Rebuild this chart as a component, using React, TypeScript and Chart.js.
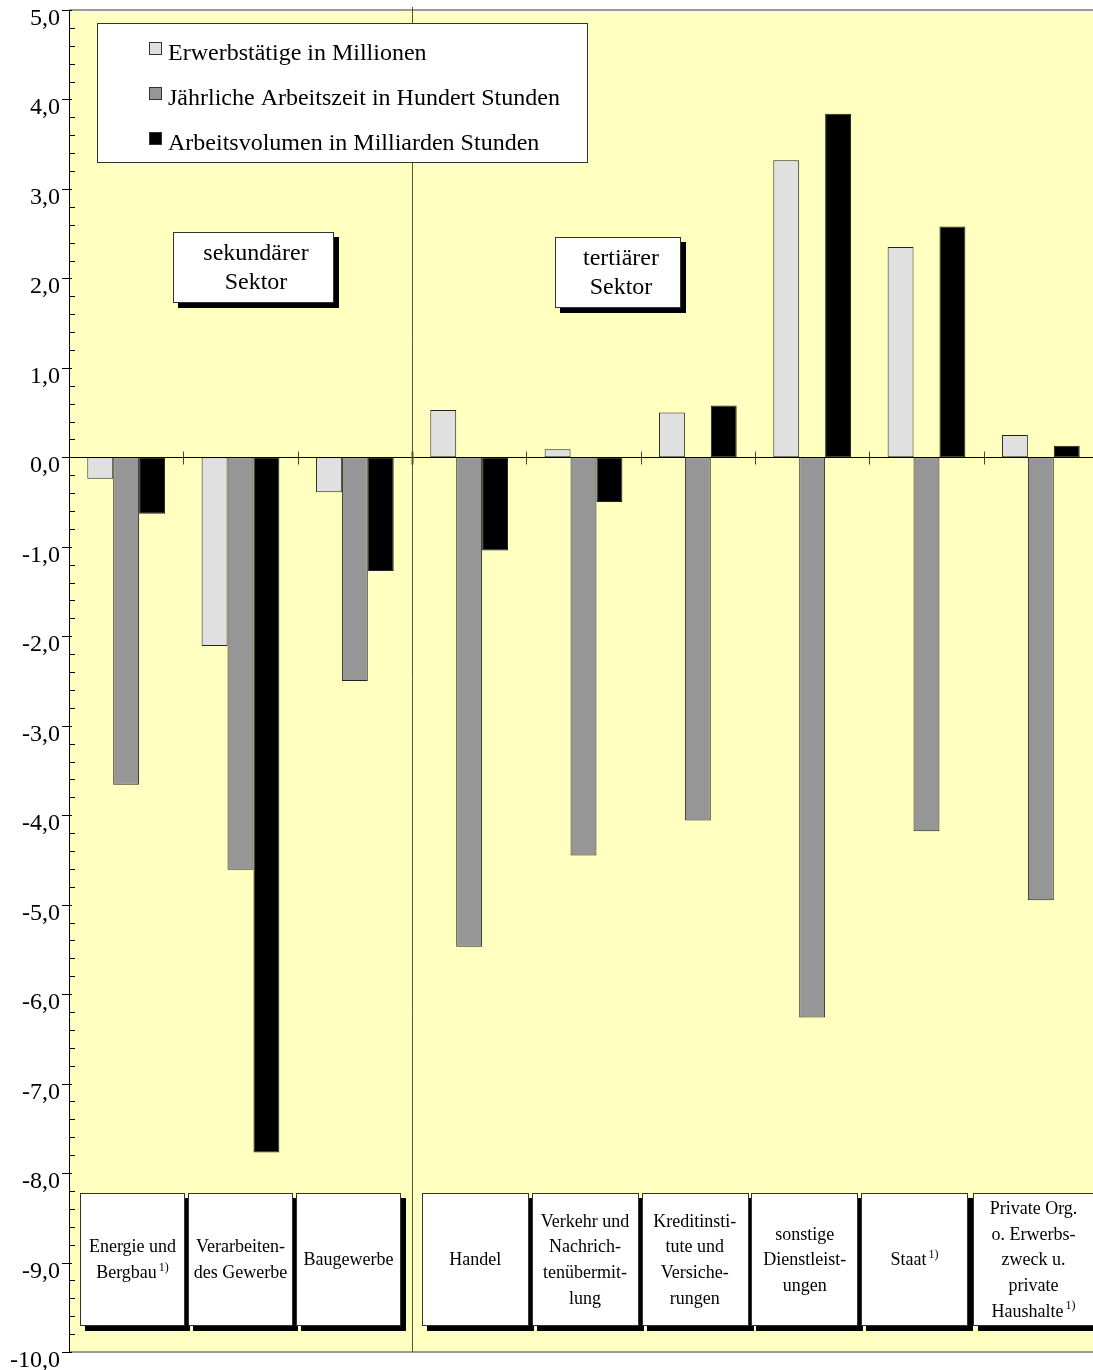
import { useEffect, useRef } from 'react';
import { Chart, registerables } from 'chart.js';

Chart.register(...registerables);

// Wirtschaftsbereiche (Zeilen der Beschriftungskästen)
const categoryLines: string[][] = [
  ['Energie und', 'Bergbau'],
  ['Verarbeiten-', 'des Gewerbe'],
  ['Baugewerbe'],
  ['Handel'],
  ['Verkehr und', 'Nachrich-', 'tenübermit-', 'lung'],
  ['Kreditinsti-', 'tute und', 'Versiche-', 'rungen'],
  ['sonstige', 'Dienstleist-', 'ungen'],
  ['Staat'],
  ['Private Org.', 'o. Erwerbs-', 'zweck u.', 'private', 'Haushalte'],
];
const footnoteMarks = ['1)', '', '', '', '', '', '', '1)', '1)'];

const seriesNames = [
  'Erwerbstätige in Millionen',
  'Jährliche Arbeitszeit in Hundert Stunden',
  'Arbeitsvolumen in Milliarden Stunden',
];
const erwerbstaetige = [-0.24, -2.11, -0.39, 0.53, 0.09, 0.5, 3.32, 2.35, 0.25];
const arbeitszeit = [-3.66, -4.61, -2.5, -5.47, -4.45, -4.06, -6.26, -4.18, -4.95];
const arbeitsvolumen = [-0.63, -7.77, -1.27, -1.04, -0.5, 0.58, 3.84, 2.58, 0.13];
const seriesColors = ['#e0e0e0', '#969696', '#000000'];

const sectorLabels: string[][] = [
  ['sekundärer', 'Sektor'],
  ['tertiärer', 'Sektor'],
];

const yMin = -10;
const yMax = 5;

const SERIF = '"Liberation Serif", "Times New Roman", serif';

function fmt(v: number) {
  return v.toFixed(1).replace('.', ',');
}

function shadowBox(ctx: CanvasRenderingContext2D, x: number, y: number, w: number, h: number, off: number) {
  ctx.fillStyle = '#000';
  ctx.fillRect(x + off, y + off, w, h);
  ctx.fillStyle = '#fff';
  ctx.fillRect(x, y, w, h);
  ctx.strokeStyle = '#333';
  ctx.lineWidth = 1;
  ctx.strokeRect(x + 0.5, y + 0.5, w - 1, h - 1);
}

function centeredLines(
  ctx: CanvasRenderingContext2D,
  lines: string[],
  cx: number,
  cy: number,
  lineH: number,
  size: number,
  mark = ''
) {
  ctx.fillStyle = '#000';
  ctx.textBaseline = 'middle';
  ctx.textAlign = 'left';
  const n = lines.length;
  const markSize = Math.round(size * 0.66);
  lines.forEach((line, i) => {
    const y = cy + (i - (n - 1) / 2) * lineH;
    ctx.font = `${size}px ${SERIF}`;
    const w = ctx.measureText(line).width;
    let markW = 0;
    const last = i === n - 1 && mark;
    if (last) {
      ctx.font = `${markSize}px ${SERIF}`;
      markW = ctx.measureText(mark).width + 2;
    }
    const x0 = cx - (w + markW) / 2;
    ctx.font = `${size}px ${SERIF}`;
    ctx.fillText(line, x0, y);
    if (last) {
      ctx.font = `${markSize}px ${SERIF}`;
      ctx.fillText(mark, x0 + w + 2, y - size * 0.33);
    }
  });
}

const decor = {
  id: 'decor',
  beforeDraw(chart: any) {
    const { ctx, chartArea: a } = chart;
    const x = chart.scales.x;
    const n = categoryLines.length;
    const cw = (x.right - x.left) / n;
    ctx.save();
    ctx.fillStyle = '#fff';
    ctx.fillRect(0, 0, chart.width, chart.height);
    ctx.fillStyle = '#ffffc0';
    ctx.fillRect(a.left, a.top, a.right - a.left, a.bottom - a.top);
    // obere und untere Rahmenlinie
    ctx.fillStyle = '#9a9a9a';
    ctx.fillRect(a.left, a.top - 1, a.right - a.left, 2);
    ctx.fillRect(a.left, a.bottom - 1, a.right - a.left, 2);
    // Trennlinie sekundärer / tertiärer Sektor
    const dx = Math.round(x.left + 3 * cw) + 0.5;
    ctx.strokeStyle = '#55553a';
    ctx.lineWidth = 1;
    ctx.beginPath();
    ctx.moveTo(dx, a.top - 3);
    ctx.lineTo(dx, a.bottom);
    ctx.stroke();
    ctx.restore();
  },
  afterDatasetsDraw(chart: any) {
    const { ctx, chartArea: a } = chart;
    const x = chart.scales.x;
    const y = chart.scales.y;
    const n = categoryLines.length;
    const cw = (x.right - x.left) / n;
    ctx.save();

    // Nulllinie mit Kategorie-Teilstrichen
    const y0 = Math.round(y.getPixelForValue(0)) + 0.5;
    ctx.strokeStyle = '#000';
    ctx.lineWidth = 1;
    ctx.beginPath();
    ctx.moveTo(a.left - 7, y0);
    ctx.lineTo(a.right, y0);
    ctx.stroke();
    for (let i = 1; i < n; i++) {
      const tx = Math.round(x.left + i * cw) + 0.5;
      ctx.strokeStyle = i === 3 ? '#55553a' : '#444';
      ctx.lineWidth = i === 3 ? 2 : 1;
      ctx.beginPath();
      ctx.moveTo(tx, y0 - 6);
      ctx.lineTo(tx, y0 + 7);
      ctx.stroke();
    }
    ctx.lineWidth = 1;

    // y-Achse
    ctx.strokeStyle = '#000';
    const ax = a.left + 0.5;
    ctx.beginPath();
    ctx.moveTo(ax, a.top);
    ctx.lineTo(ax, a.bottom);
    ctx.stroke();
    for (let k = 0; k <= (yMax - yMin) * 5; k++) {
      const v = yMax - k * 0.2;
      const ty = Math.round(y.getPixelForValue(v)) + 0.5;
      ctx.beginPath();
      if (k % 5 === 0) {
        ctx.moveTo(a.left - 7, ty);
        ctx.lineTo(a.left + 3, ty);
      } else {
        ctx.moveTo(a.left, ty);
        ctx.lineTo(a.left + 6, ty);
      }
      ctx.stroke();
    }
    ctx.fillStyle = '#000';
    ctx.font = `24px ${SERIF}`;
    ctx.textAlign = 'right';
    ctx.textBaseline = 'alphabetic';
    for (let v = yMax; v >= yMin; v--) {
      const ty = y.getPixelForValue(v);
      ctx.fillText(fmt(v), a.left - 9, ty + 15);
    }

    // Legende
    const lx = a.left + 28;
    const ly = a.top + 13;
    ctx.fillStyle = '#fff';
    ctx.fillRect(lx, ly, 491, 140);
    ctx.strokeStyle = '#333';
    ctx.strokeRect(lx + 0.5, ly + 0.5, 490, 139);
    chart.data.datasets.forEach((ds: any, i: number) => {
      const base = ly + 37 + i * 45;
      ctx.fillStyle = ds.backgroundColor;
      ctx.fillRect(lx + 52, base - 18, 13, 13);
      ctx.strokeStyle = '#333';
      ctx.strokeRect(lx + 52.5, base - 17.5, 12, 12);
      ctx.fillStyle = '#000';
      ctx.font = `24px ${SERIF}`;
      ctx.textAlign = 'left';
      ctx.textBaseline = 'alphabetic';
      ctx.fillText(ds.label, lx + 71, base);
    });

    // Sektor-Kästen
    const sec = [
      { x: 173, y: 232, w: 161, h: 71, cx: 256, cy: 268 },
      { x: 555, y: 237, w: 126, h: 71, cx: 621, cy: 273 },
    ];
    sec.forEach((s, i) => {
      shadowBox(ctx, s.x, s.y, s.w, s.h, 5);
      centeredLines(ctx, sectorLabels[i], s.cx, s.cy, 29, 24);
    });

    // Beschriftungskästen der Wirtschaftsbereiche
    const bTop = a.bottom - 159;
    const bH = 133;
    const boxes: { l: number; r: number }[] = [];
    const secL = x.left + 11;
    const secR = x.left + 3 * cw - 11;
    const wL = (secR - secL - 6) / 3;
    for (let i = 0; i < 3; i++) boxes.push({ l: secL + i * (wL + 3), r: secL + i * (wL + 3) + wL });
    const rStart = x.left + 3 * cw + 10;
    for (let i = 0; i < 5; i++) boxes.push({ l: rStart + i * 109.8, r: rStart + i * 109.8 + 106.5 });
    boxes.push({ l: rStart + 5 * 109.8 + 2, r: a.right - 4 });
    boxes.forEach((b, i) => {
      shadowBox(ctx, Math.round(b.l), bTop, Math.round(b.r - b.l), bH, 5);
      centeredLines(ctx, categoryLines[i], (b.l + b.r) / 2, bTop + bH / 2 + 1, 25.7, 18, footnoteMarks[i]);
    });

    ctx.restore();
  },
};

export default function App() {
  const ref = useRef<HTMLCanvasElement>(null);
  useEffect(() => {
    if (!ref.current) return;
    const chart = new Chart(ref.current, {
      type: 'bar',
      data: {
        labels: categoryLines.map((l) => l.join(' ')),
        datasets: [erwerbstaetige, arbeitszeit, arbeitsvolumen].map((d, i) => ({
          label: seriesNames[i],
          data: d,
          backgroundColor: seriesColors[i],
          borderColor: '#222',
          borderWidth: 1,
          borderSkipped: false,
          categoryPercentage: 0.68,
          barPercentage: 1,
        })),
      },
      options: {
        responsive: false,
        animation: false,
        devicePixelRatio: 1,
        layout: { padding: { left: 69, top: 10, right: 2, bottom: 18 } },
        plugins: { legend: { display: false }, tooltip: { enabled: false } },
        scales: {
          x: { display: false, grid: { display: false } },
          y: { display: false, min: yMin, max: yMax },
        },
      },
      plugins: [decor],
    });
    return () => chart.destroy();
  }, []);
  return (
    <div style={{ position: 'absolute', left: 0, top: 0, width: 1093, height: 1370, overflow: 'hidden', background: '#fff' }}>
      <canvas ref={ref} width={1100} height={1370} style={{ width: 1100, height: 1370, display: 'block' }} />
    </div>
  );
}
